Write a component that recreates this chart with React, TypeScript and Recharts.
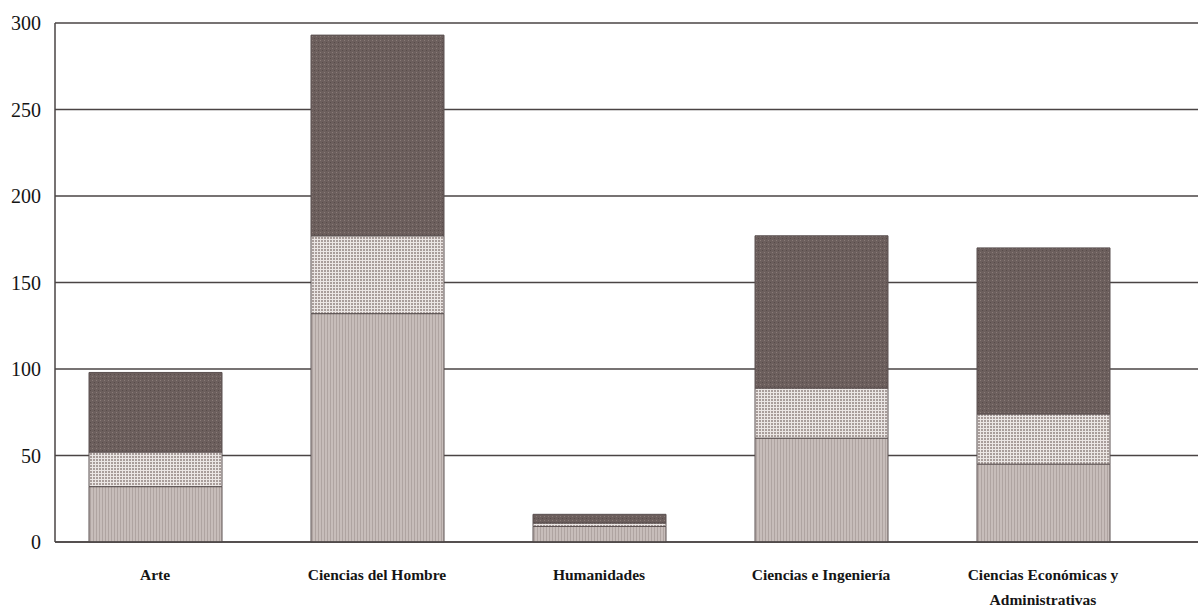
import React from 'react';
import { BarChart, Bar, XAxis, YAxis, CartesianGrid } from 'recharts';

// categorias del eje X
const categories = [
  'Arte',
  'Ciencias del Hombre',
  'Humanidades',
  'Ciencias e Ingeniería',
  'Ciencias Económicas y Administrativas',
];

// segmentos apilados (de abajo hacia arriba)
const lowerValues = [32, 132, 9, 60, 45];
const middleValues = [20, 45, 2, 29, 29];
const upperValues = [46, 116, 5, 88, 96];

const yTicks = [0, 50, 100, 150, 200, 250, 300];

const data = categories.map((name, i) => ({
  name,
  lower: lowerValues[i],
  middle: middleValues[i],
  upper: upperValues[i],
}));

// parte el texto en lineas de maximo n caracteres
function wrapLabel(text: string, max = 22): string[] {
  const words = text.split(' ');
  const lines: string[] = [];
  let cur = '';
  words.forEach((w) => {
    const next = cur ? cur + ' ' + w : w;
    if (next.length > max && cur) {
      lines.push(cur);
      cur = w;
    } else {
      cur = next;
    }
  });
  if (cur) lines.push(cur);
  return lines;
}

function CategoryTick(props: any) {
  const { x, y, payload } = props;
  const lines = wrapLabel(payload.value);
  return (
    <text
      x={x}
      y={y}
      textAnchor="middle"
      fill="#151515"
      fontFamily="'Liberation Serif', 'DejaVu Serif', serif"
      fontWeight="bold"
      fontSize={15.5}
    >
      {lines.map((l, i) => (
        <tspan key={i} x={x} dy={i === 0 ? 36 : 25}>
          {l}
        </tspan>
      ))}
    </text>
  );
}

export default function App() {
  return (
    <div style={{ position: 'absolute', left: 0, top: 0, width: 1198, height: 614, background: '#fff' }}>
      <BarChart
        width={1198}
        height={614}
        data={data}
        margin={{ top: 23, right: 0, left: 0, bottom: 42 }}
      >
        <defs>
          <pattern id="patUpper" width="4" height="4" patternUnits="userSpaceOnUse">
            <rect width="4" height="4" fill="#6c5f5d" />
            <rect x="0" y="0" width="1" height="1" fill="#8a7c78" />
            <rect x="2" y="2" width="1" height="1" fill="#574b49" />
          </pattern>
          <pattern id="patMiddle" width="3" height="3" patternUnits="userSpaceOnUse">
            <rect width="3" height="3" fill="#ebe6e4" />
            <rect x="0" y="0" width="2" height="2" fill="#a89d9a" />
          </pattern>
          <pattern id="patLower" width="3" height="3" patternUnits="userSpaceOnUse">
            <rect width="3" height="3" fill="#c7bdba" />
            <rect x="0" y="0" width="1" height="3" fill="#afa4a1" />
          </pattern>
        </defs>
        <CartesianGrid vertical={false} stroke="#4a4444" strokeWidth={1.5} />
        <XAxis
          dataKey="name"
          interval={0}
          height={30}
          tickLine={false}
          axisLine={{ stroke: '#4a4444', strokeWidth: 1.5 }}
          padding={{ left: -11, right: 44 }}
          tick={<CategoryTick />}
          tickSize={0}
        />
        <YAxis
          domain={[0, 300]}
          ticks={yTicks}
          width={55}
          tickLine={false}
          tickSize={0}
          tickMargin={14}
          axisLine={{ stroke: '#4a4444', strokeWidth: 1.5 }}
          tick={{ fill: '#151515', fontSize: 20, fontFamily: "'Liberation Serif', 'DejaVu Serif', serif" }}
        />
        <Bar dataKey="lower" stackId="s" barSize={133} fill="url(#patLower)" stroke="#5a5050" strokeWidth={1} isAnimationActive={false} />
        <Bar dataKey="middle" stackId="s" barSize={133} fill="url(#patMiddle)" stroke="#5a5050" strokeWidth={1} isAnimationActive={false} />
        <Bar dataKey="upper" stackId="s" barSize={133} fill="url(#patUpper)" stroke="#5a5050" strokeWidth={1} isAnimationActive={false} />
      </BarChart>
    </div>
  );
}
